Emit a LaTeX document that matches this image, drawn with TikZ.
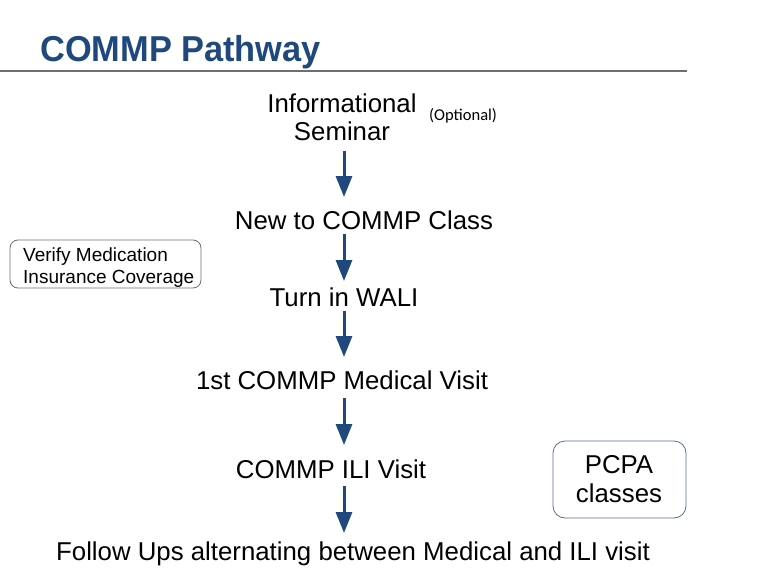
\documentclass[tikz,border=0pt]{standalone}
\usepackage{fontspec}
\setmainfont{Liberation Sans}
\newfontfamily\carl{Carlito}
\usetikzlibrary{arrows.meta}
\definecolor{titleblue}{RGB}{31,73,125}
\definecolor{arrowblue}{RGB}{31,73,125}
\definecolor{boxblue}{RGB}{84,110,150}
\definecolor{rulegray}{RGB}{110,110,110}
\tikzset{
  stxt/.style={inner sep=0pt, anchor=base, font=\fontsize{25.8}{30}\selectfont},
  arr/.style={draw=arrowblue, line width=3pt, -{Triangle[width=16pt,length=21pt]}},
  sidebox/.style={draw=rulegray, rounded corners=8pt, line width=0.8pt, inner sep=0pt},
  sidetxt/.style={inner sep=0pt, anchor=base west, font=\fontsize{19}{22}\selectfont},
}
\begin{document}
\begin{tikzpicture}[x=1pt,y=-1pt]
\useasboundingbox (0,0) rectangle (764,570);
% title
\node[inner sep=0pt, anchor=base west, text=titleblue, font=\fontsize{36}{42}\selectfont\bfseries, xscale=0.955] (title) at (40,61) {COMMP Pathway};
\coordinate (rl) at (0,71);
\coordinate (rr) at (687,71);
\draw[rulegray, line width=1.6pt] (rl) -- (rr);
% main texts
\node[stxt] (info) at (342,112) {Informational};
\node[stxt] (sem) at (342,140) {Seminar};
\node[inner sep=0pt, anchor=base west, font=\carl\fontsize{16.5}{18}\selectfont] (opt) at (429,120) {(Optional)};
\node[stxt] (new) at (364,229) {New to COMMP Class};
\node[stxt] (wali) at (344,306) {Turn in WALI};
\node[stxt] (med) at (342,389) {1st COMMP Medical Visit};
\node[stxt] (ili) at (331,478) {COMMP ILI Visit};
\node[stxt] (fol) at (353,560) {Follow Ups alternating between Medical and ILI visit};
% arrows
\coordinate (a1) at (344,151); \coordinate (b1) at (344,197);
\coordinate (a2) at (344,234); \coordinate (b2) at (344,281);
\coordinate (a3) at (344,311); \coordinate (b3) at (344,357);
\coordinate (a4) at (344,398); \coordinate (b4) at (344,445);
\coordinate (a5) at (344,486); \coordinate (b5) at (344,533);
\draw[arr] (a1) -- (b1);
\draw[arr] (a2) -- (b2);
\draw[arr] (a3) -- (b3);
\draw[arr] (a4) -- (b4);
\draw[arr] (a5) -- (b5);
% side boxes
\draw[sidebox] (10,240) rectangle (201,288);
\node[sidetxt] (ver1) at (23,261) {Verify Medication};
\node[sidetxt] (ver2) at (23,283.5) {Insurance Coverage};
\draw[draw=boxblue, rounded corners=12pt, line width=0.8pt] (553,441) rectangle (686,518);
\node[stxt] (pcpa1) at (619,473) {PCPA};
\node[stxt] (pcpa2) at (619,502) {classes};
\end{tikzpicture}
\end{document}
